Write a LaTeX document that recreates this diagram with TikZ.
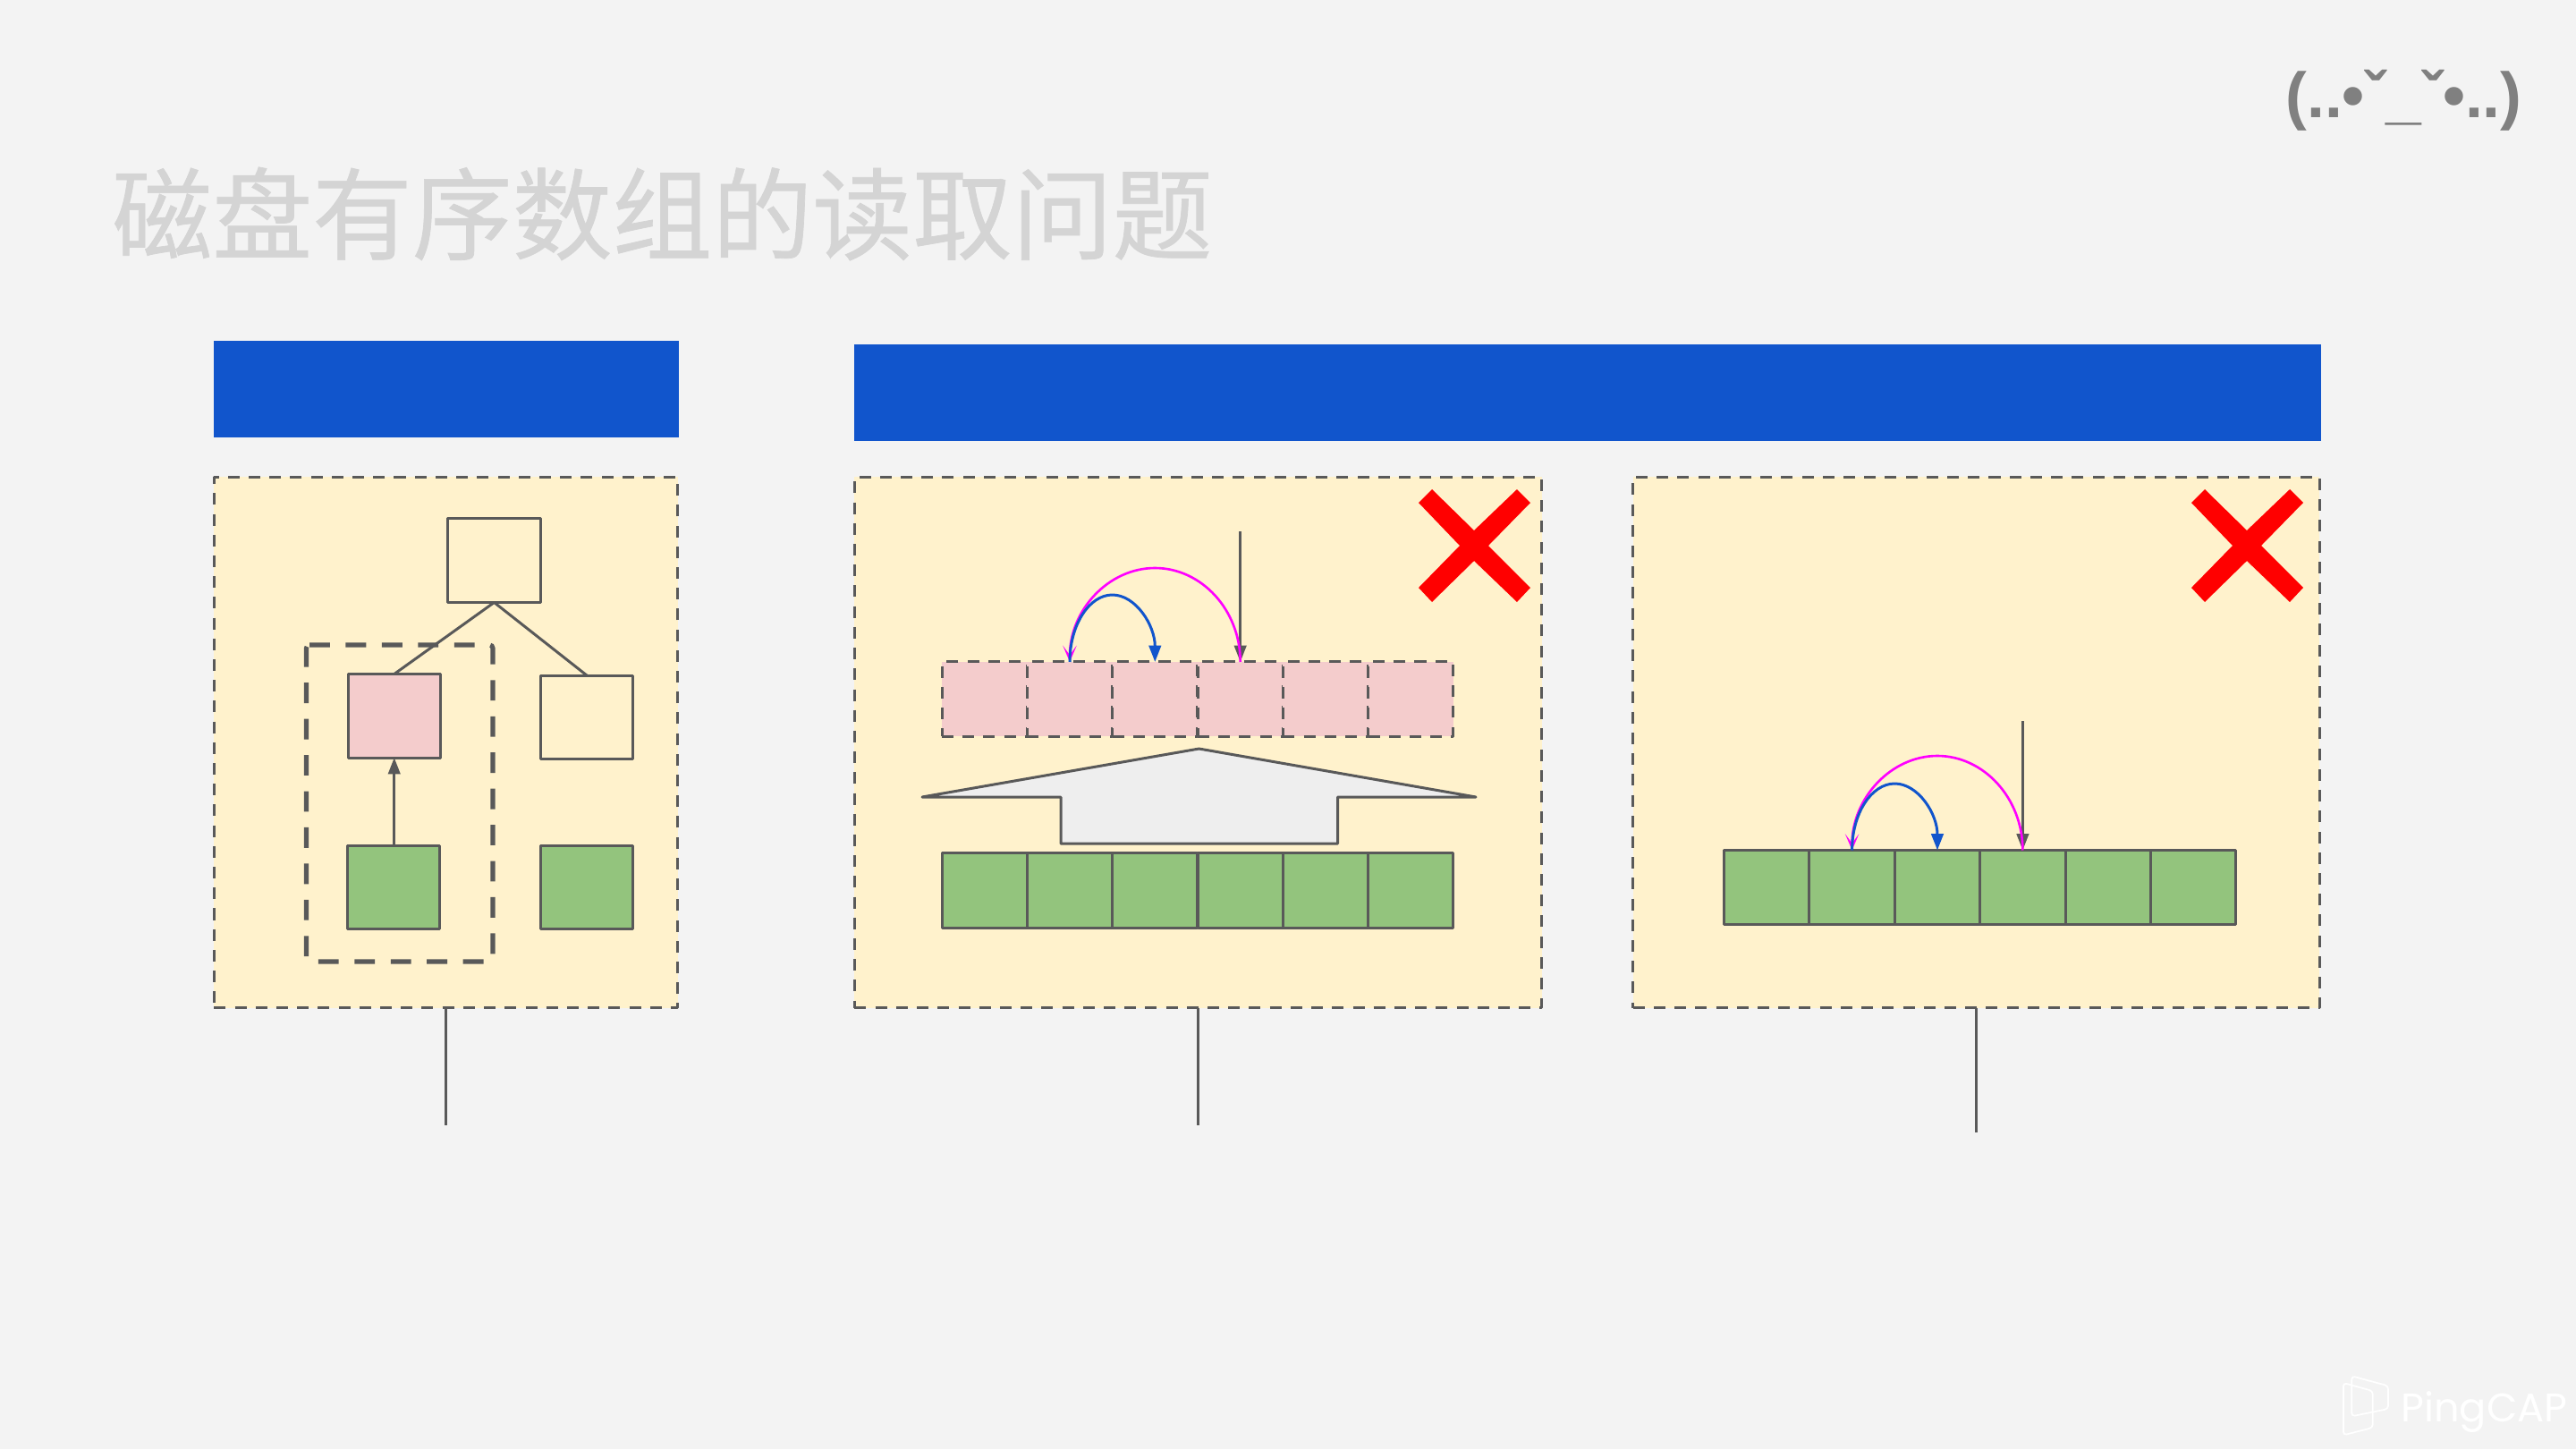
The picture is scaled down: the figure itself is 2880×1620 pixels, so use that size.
\documentclass[tikz,border=0pt]{standalone}
\usepackage{fontspec}
\usetikzlibrary{arrows.meta}
\setmainfont{Liberation Sans}
\newfontfamily\cjk[FakeBold=0.6]{Noto Sans CJK SC}
\newfontfamily\logofont{Poppins}
\definecolor{bgc}{HTML}{F3F3F3}
\definecolor{panelc}{HTML}{FFF2CC}
\definecolor{linec}{HTML}{595959}
\definecolor{greenc}{HTML}{93C47D}
\definecolor{pinkc}{HTML}{F4CCCC}
\definecolor{bluec}{HTML}{1155CC}
\definecolor{magc}{HTML}{FF00FF}
\definecolor{shapec}{HTML}{EEEEEE}
\begin{document}
\begin{tikzpicture}[x=0.01cm,y=-0.01cm,
  base/.style={inner sep=0,outer sep=0,draw=linec,line width=.85pt,line join=round},
  panel/.style={base,fill=panelc,dash pattern=on 3.7pt off 2.9pt,minimum height=5.93cm},
  header/.style={inner sep=0,outer sep=0,fill=bluec,minimum height=1.08cm},
  leaf/.style={base,minimum width=1.03cm,minimum height=.935cm},
  cell/.style={base,minimum width=.953cm,minimum height=.83cm},
  gcell/.style={cell,fill=greenc},
  pcell/.style={cell,fill=pinkc,dash pattern=on 3.7pt off 2.9pt},
  conn/.style={draw=linec,line width=.85pt},
  tri/.style={-{Triangle[length=5.2pt,width=3.8pt]}},
  jump/.style={line width=.75pt,draw=magc,-{Stealth[length=5.2pt,width=4.4pt,inset=3pt]}},
  hop/.style={line width=.85pt,draw=bluec,-{Triangle[length=5.2pt,width=3.8pt]}},
  cross/.style={fill=red},
  logoline/.style={draw=white,line width=.5pt,rounded corners=1pt}]
\useasboundingbox (0,0) rectangle (2880,1620);
\fill[bgc] (0,0) rectangle (2880,1620);

% title and decorations
\node[text=black!17,inner sep=0] (title) at (740.5,239) {\cjk\fontsize{31.8pt}{34pt}\selectfont 磁盘有序数组的读取问题};
\node[text=black!50,inner sep=0] (face) at (2687.5,112) {\bfseries\fontsize{20.3pt}{22pt}\selectfont (..•ˇ\_ˇ•..)};

% header bars
\node[header,minimum width=5.2cm] (h1) at (499,435) {};
\node[header,minimum width=16.4cm] (h2) at (1775,439) {};

% panels
\node[panel,minimum width=5.18cm] (pa) at (498.5,830) {};
\node[panel,minimum width=7.68cm] (pb) at (1339.7,830) {};
\node[panel,minimum width=7.67cm] (pc) at (2209.5,830) {};

% free ends
\coordinate (ea) at (498.5,1258);
\coordinate (eb) at (1339.7,1258);
\coordinate (ec) at (2209.5,1266);
\draw[conn] (pa.south) -- (ea);
\draw[conn] (pb.south) -- (eb);
\draw[conn] (pc.south) -- (ec);

% tree in left panel
\draw[draw=linec,line width=1.45pt,rounded corners=1pt,dash pattern=on 6.5pt off 5pt]
  (342.5,721) -- (551,721) -- (551,1075) -- (342.5,1075) -- cycle;
\node[leaf] (top) at (552.5,626.7) {};
\node[leaf,fill=pinkc] (pink) at (440.75,800.3) {};
\node[leaf] (white) at (656.3,802) {};
\node[leaf,fill=greenc] (gl) at (439.7,992) {};
\node[leaf,fill=greenc] (gr) at (656.3,992) {};
\draw[conn] (top.south) -- (pink.north);
\draw[conn] (top.south) -- (white.north);
\draw[conn,tri] (gl.north -| pink.south) -- (pink.south);

% middle panel
\foreach \i/\cx in {1/1100.7,2/1196,3/1291.3,4/1386.7,5/1482,6/1577.3}{
  \node[pcell] (p\i) at (\cx,781.5) {};
  \node[gcell] (q\i) at (\cx,995.5) {};
}
\draw[base,fill=shapec] (1340.5,837) -- (1650,891) -- (1495.5,891) -- (1495.5,943) -- (1186,943) -- (1186,891) -- (1031,891) -- cycle;
\coordinate (sb) at (1386.7,594);
\draw[conn,tri] (sb) -- (p4.north);
\coordinate (mb) at (1291.3,635);
\coordinate (bb) at (1243.6,665);
\draw[jump] (p4.north) .. controls +(0,-58) and +(52,0) .. (mb) .. controls +(-52,0) and +(0,-58) .. (p2.north);
\draw[hop] (p2.north) .. controls +(0,-41) and +(-26,0) .. (bb) .. controls +(26,0) and +(0,-41) .. (p3.north);
\fill[cross] (1601,547) -- (1648,593) -- (1696,547) -- (1711,562) -- (1664,610) -- (1711,657) -- (1696,673) -- (1648,627) -- (1601,673) -- (1586,657) -- (1632,610) -- (1586,562) -- cycle;

% right panel
\foreach \i/\cx in {1/1975.2,2/2070.6,3/2166,4/2261.4,5/2356.8,6/2452.2}{
  \node[gcell] (r\i) at (\cx,992) {};
}
\coordinate (sc) at (2261.4,806);
\draw[conn,tri] (sc) -- (r4.north);
\coordinate (mc) at (2166,845);
\coordinate (bc) at (2118.3,876);
\draw[jump] (r4.north) .. controls +(0,-58) and +(52,0) .. (mc) .. controls +(-52,0) and +(0,-58) .. (r2.north);
\draw[hop] (r2.north) .. controls +(0,-41) and +(-26,0) .. (bc) .. controls +(26,0) and +(0,-41) .. (r3.north);
\fill[cross] (2465,547) -- (2512,593) -- (2560,547) -- (2575,562) -- (2528,610) -- (2575,657) -- (2560,673) -- (2512,627) -- (2465,673) -- (2450,657) -- (2496,610) -- (2450,562) -- cycle;

% logo
\draw[logoline] (2620,1546) -- (2652.7,1555) -- (2652.7,1596) -- (2620,1604.3) -- cycle;
\draw[logoline] (2629.3,1538.3) -- (2670,1549.3) -- (2670,1575) -- (2629.3,1583.3) -- cycle;
\node[text=white,inner sep=0,anchor=base] (logo) at (2777.5,1589) {\logofont\fontsize{12.7pt}{15pt}\selectfont PingCAP};
\end{tikzpicture}
\end{document}
